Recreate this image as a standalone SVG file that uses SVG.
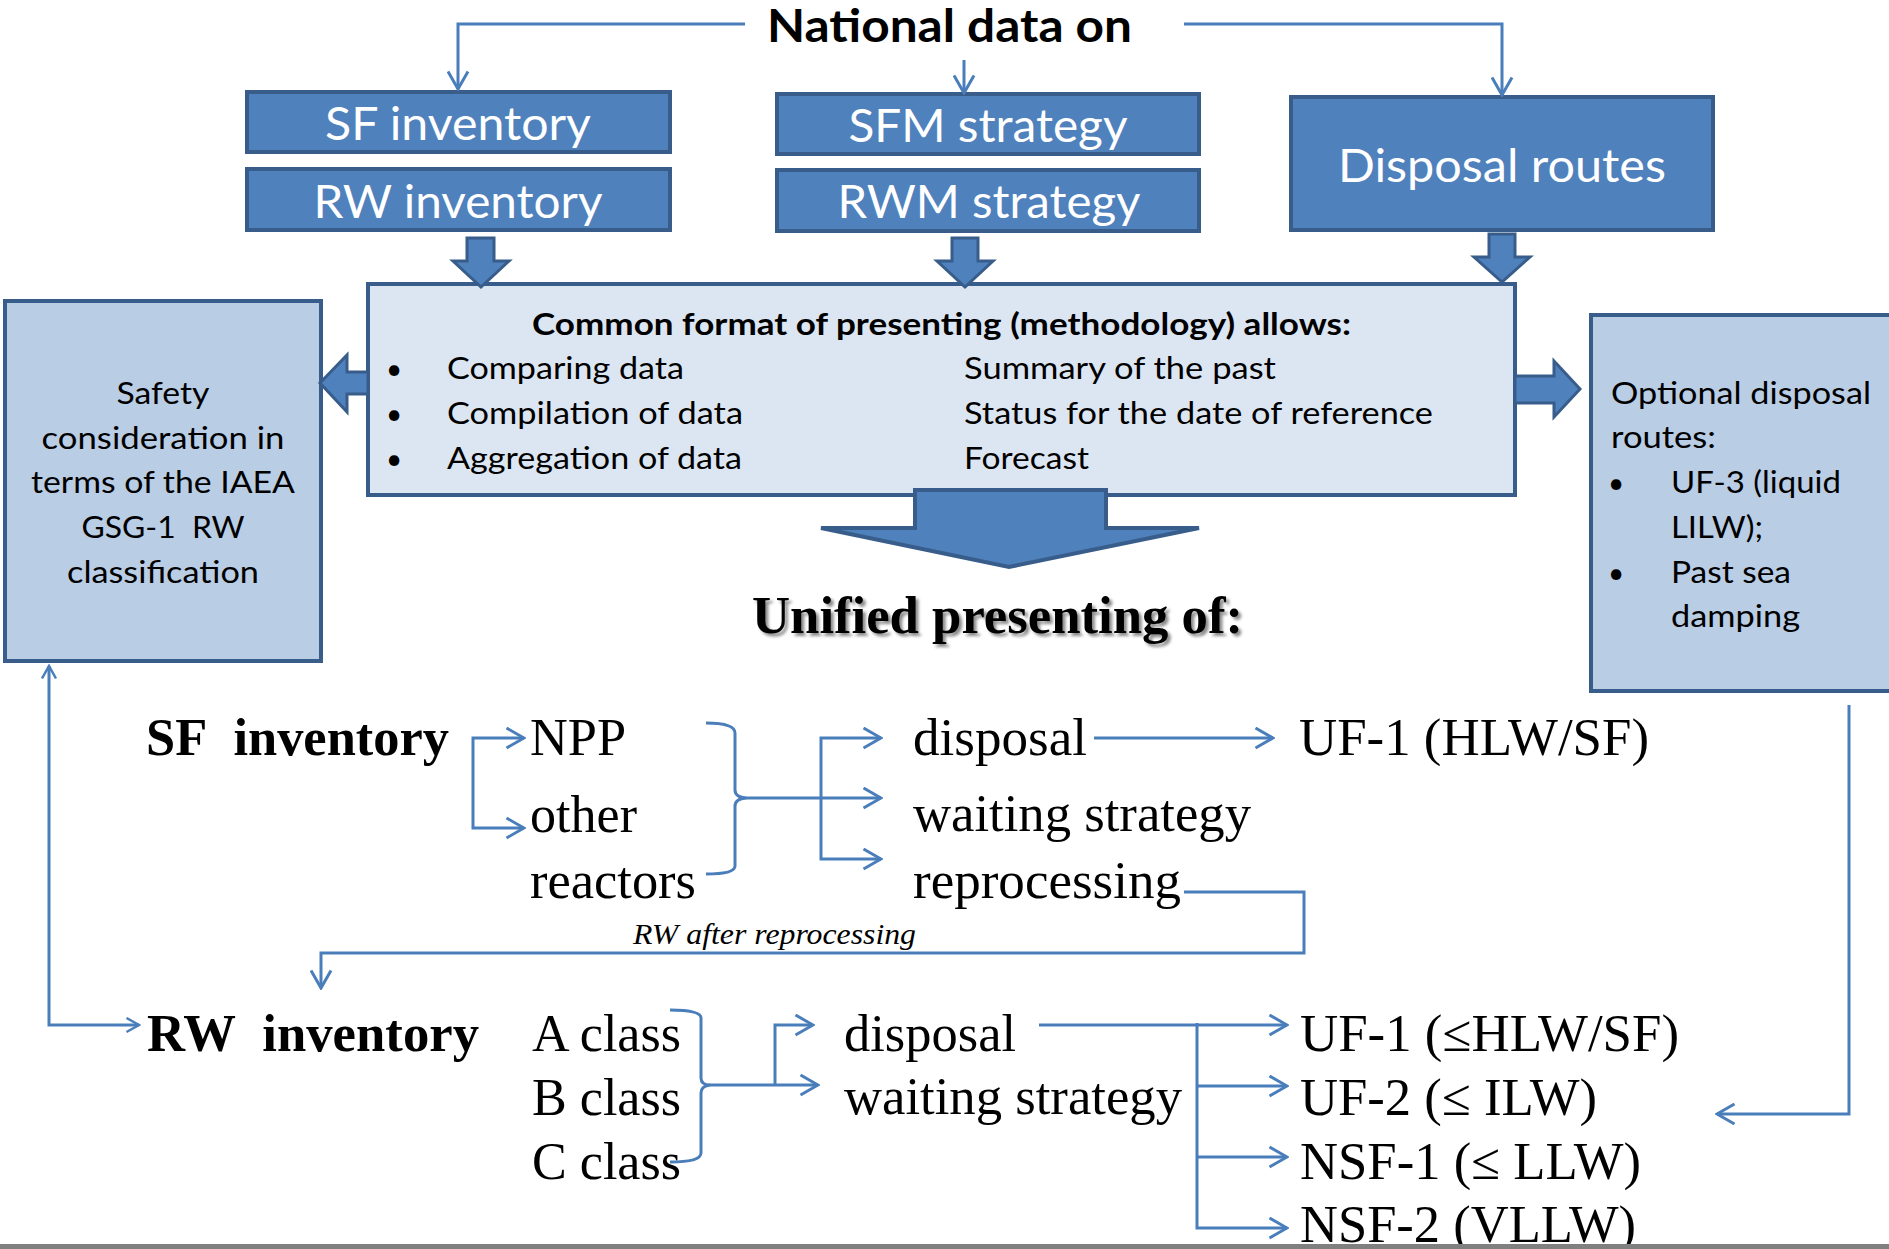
<svg xmlns="http://www.w3.org/2000/svg" width="1889" height="1249" viewBox="0 0 1889 1249">
  <style>
    .box { fill: #4F81BD; stroke: #385D8A; stroke-width: 4; }
    .pale { fill: #DCE6F2; stroke: #385D8A; stroke-width: 4; }
    .mid { fill: #B9CDE5; stroke: #385D8A; stroke-width: 4; }
    .blk { fill: #4F81BD; stroke: #385D8A; stroke-width: 3; stroke-linejoin: miter; }
    .wt { font-family: Lato, "Open Sans", sans-serif; fill: #FFFFFF; font-size: 46px; }
    .cal { font-family: Lato, "Open Sans", sans-serif; fill: #000000; font-size: 31px; }
    .bul { font-family: Lato, "Open Sans", sans-serif; fill: #000000; font-size: 28px; }
    .calb { font-family: Lato, "Open Sans", sans-serif; fill: #000000; font-weight: bold; }
    .tr { font-family: "Liberation Serif", "Times New Roman", serif; fill: #000000; font-size: 52px; }
    .tri { font-family: "Liberation Serif", "Times New Roman", serif; fill: #000000; font-size: 30px; font-style: italic; }
    .trb { font-family: "Liberation Serif", "Times New Roman", serif; fill: #000000; font-size: 53px; font-weight: bold; }
    .ln { fill: none; stroke: #4A7EBB; stroke-width: 3; }
  </style>
  <defs>
    <marker id="ah" viewBox="0 0 21 23" refX="19" refY="11.5" markerWidth="21" markerHeight="23" markerUnits="userSpaceOnUse" orient="auto-start-reverse">
      <path d="M1.5,1.5 L19,11.5 L1.5,21.5" fill="none" stroke="#4A7EBB" stroke-width="3"/>
    </marker>
    <marker id="ahs" viewBox="0 0 16 17" refX="14" refY="8.5" markerWidth="16" markerHeight="17" markerUnits="userSpaceOnUse" orient="auto-start-reverse">
      <path d="M1.5,1.5 L14,8.5 L1.5,15.5" fill="none" stroke="#4A7EBB" stroke-width="2.5"/>
    </marker>
    <filter id="shadow" x="-5%" y="-20%" width="110%" height="150%">
      <feDropShadow dx="3" dy="3" stdDeviation="1.6" flood-color="#000000" flood-opacity="0.45"/>
    </filter>
  </defs>

  <!-- title -->
  <g id="title">
    <text class="calb" x="767" y="42" font-size="46" textLength="365" lengthAdjust="spacingAndGlyphs">National data on</text>
  </g>

  <!-- input data boxes -->
  <g id="sf-inventory">
    <rect class="box" x="247" y="92" width="423" height="60"/>
    <text class="wt" x="458" y="140" text-anchor="middle" textLength="266" lengthAdjust="spacingAndGlyphs">SF inventory</text>
  </g>
  <g id="rw-inventory">
    <rect class="box" x="247" y="169" width="423" height="61"/>
    <text class="wt" x="458" y="218" text-anchor="middle" textLength="289" lengthAdjust="spacingAndGlyphs">RW inventory</text>
  </g>
  <g id="sfm-strategy">
    <rect class="box" x="777" y="94" width="422" height="60"/>
    <text class="wt" x="988" y="142" text-anchor="middle" textLength="279" lengthAdjust="spacingAndGlyphs">SFM strategy</text>
  </g>
  <g id="rwm-strategy">
    <rect class="box" x="777" y="170" width="422" height="61"/>
    <text class="wt" x="989" y="218" text-anchor="middle" textLength="303" lengthAdjust="spacingAndGlyphs">RWM strategy</text>
  </g>
  <g id="disposal-routes">
    <rect class="box" x="1291" y="97" width="422" height="133"/>
    <text class="wt" x="1502" y="182" text-anchor="middle" style="font-size:47px" textLength="328" lengthAdjust="spacingAndGlyphs">Disposal routes</text>
  </g>

  <!-- methodology box -->
  <g id="common-format">
    <rect class="pale" x="368" y="284" width="1147" height="211"/>
    <text class="calb" x="941.5" y="335" font-size="30" text-anchor="middle" textLength="819" lengthAdjust="spacingAndGlyphs">Common format of presenting (methodology) allows:</text>
    <text class="bul" x="394" y="379" text-anchor="middle">•</text>
    <text class="bul" x="394" y="424" text-anchor="middle">•</text>
    <text class="bul" x="394" y="469" text-anchor="middle">•</text>
    <text class="cal" x="447" y="379" textLength="237" lengthAdjust="spacingAndGlyphs">Comparing data</text>
    <text class="cal" x="447" y="424" textLength="296" lengthAdjust="spacingAndGlyphs">Compilation of data</text>
    <text class="cal" x="447" y="469" textLength="295" lengthAdjust="spacingAndGlyphs">Aggregation of data</text>
    <text class="cal" x="964" y="379" textLength="312" lengthAdjust="spacingAndGlyphs">Summary of the past</text>
    <text class="cal" x="964" y="424" textLength="469" lengthAdjust="spacingAndGlyphs">Status for the date of reference</text>
    <text class="cal" x="964" y="469" textLength="125" lengthAdjust="spacingAndGlyphs">Forecast</text>
  </g>

  <!-- side boxes -->
  <g id="safety">
    <rect class="mid" x="5" y="301" width="316" height="360"/>
    <text class="cal" x="163" y="404" text-anchor="middle" textLength="93" lengthAdjust="spacingAndGlyphs">Safety</text>
    <text class="cal" x="163" y="449" text-anchor="middle" textLength="243" lengthAdjust="spacingAndGlyphs">consideration in</text>
    <text class="cal" x="163" y="493" text-anchor="middle" textLength="264" lengthAdjust="spacingAndGlyphs">terms of the IAEA</text>
    <text class="cal" x="163" y="538" text-anchor="middle" textLength="163" lengthAdjust="spacingAndGlyphs">GSG-1&#160; RW</text>
    <text class="cal" x="163" y="583" text-anchor="middle" textLength="192" lengthAdjust="spacingAndGlyphs">classification</text>
  </g>
  <g id="optional-routes">
    <rect class="mid" x="1591" y="315" width="400" height="376"/>
    <text class="cal" x="1611" y="404" textLength="260" lengthAdjust="spacingAndGlyphs">Optional disposal</text>
    <text class="cal" x="1611" y="448" textLength="105" lengthAdjust="spacingAndGlyphs">routes:</text>
    <text class="bul" x="1616" y="493" text-anchor="middle">•</text>
    <text class="cal" x="1671" y="493" textLength="170" lengthAdjust="spacingAndGlyphs">UF-3 (liquid</text>
    <text class="cal" x="1671" y="538" textLength="92" lengthAdjust="spacingAndGlyphs">LILW);</text>
    <text class="bul" x="1616" y="583" text-anchor="middle">•</text>
    <text class="cal" x="1671" y="583" textLength="120" lengthAdjust="spacingAndGlyphs">Past sea</text>
    <text class="cal" x="1671" y="627" textLength="129" lengthAdjust="spacingAndGlyphs">damping</text>
  </g>

  <!-- block arrows -->
  <g id="block-arrows">
    <path class="blk" d="M467,238 H494 V261 H509 L481,287 L453,261 H467 Z"/>
    <path class="blk" d="M952,238 H978 V261 H993 L965,287 L937,261 H952 Z"/>
    <path class="blk" d="M1489,234 H1515 V257 H1530 L1502,282 L1474,257 H1489 Z"/>
    <path class="blk" d="M368,372 H347 V355 L320,383 L347,412 V394 H368 Z"/>
    <path class="blk" d="M1515,376 H1554 V361 L1580,389 L1554,417 V403 H1515 Z"/>
    <path class="blk" style="stroke-width:4px" d="M915,490 H1106 V528 H1199 L1009,567 L821,528 H915 Z"/>
  </g>

  <!-- unified presentation section -->
  <g id="unified-heading">
    <text class="trb" x="752" y="633" filter="url(#shadow)" textLength="491" lengthAdjust="spacingAndGlyphs">Unified presenting of:</text>
  </g>

  <g id="sf-branch">
    <text class="trb" x="146" y="755" textLength="303" lengthAdjust="spacingAndGlyphs">SF&#160; inventory</text>
    <text class="tr" x="530" y="755" textLength="96" lengthAdjust="spacingAndGlyphs">NPP</text>
    <text class="tr" x="530" y="832" textLength="107" lengthAdjust="spacingAndGlyphs">other</text>
    <text class="tr" x="530" y="898" textLength="166" lengthAdjust="spacingAndGlyphs">reactors</text>
    <text class="tr" x="913" y="755" textLength="174" lengthAdjust="spacingAndGlyphs">disposal</text>
    <text class="tr" x="913" y="831" textLength="338" lengthAdjust="spacingAndGlyphs">waiting strategy</text>
    <text class="tr" x="913" y="898" textLength="268" lengthAdjust="spacingAndGlyphs">reprocessing</text>
    <text class="tr" x="1299" y="755" textLength="350" lengthAdjust="spacingAndGlyphs">UF-1 (HLW/SF)</text>
    <text class="tri" x="633" y="944" textLength="283" lengthAdjust="spacingAndGlyphs">RW after reprocessing</text>
  </g>

  <g id="rw-branch">
    <text class="trb" x="147" y="1051" textLength="332" lengthAdjust="spacingAndGlyphs">RW&#160; inventory</text>
    <text class="tr" x="532" y="1051" textLength="149" lengthAdjust="spacingAndGlyphs">A class</text>
    <text class="tr" x="532" y="1115" textLength="149" lengthAdjust="spacingAndGlyphs">B class</text>
    <text class="tr" x="532" y="1179" textLength="149" lengthAdjust="spacingAndGlyphs">C class</text>
    <text class="tr" x="844" y="1051" textLength="172" lengthAdjust="spacingAndGlyphs">disposal</text>
    <text class="tr" x="844" y="1114" textLength="338" lengthAdjust="spacingAndGlyphs">waiting strategy</text>
    <text class="tr" x="1300" y="1051" textLength="379" lengthAdjust="spacingAndGlyphs">UF-1 (≤HLW/SF)</text>
    <text class="tr" x="1300" y="1115" textLength="297" lengthAdjust="spacingAndGlyphs">UF-2 (≤ ILW)</text>
    <text class="tr" x="1300" y="1179" textLength="341" lengthAdjust="spacingAndGlyphs">NSF-1 (≤ LLW)</text>
    <text class="tr" x="1300" y="1242" textLength="336" lengthAdjust="spacingAndGlyphs">NSF-2 (VLLW)</text>
  </g>

  <!-- connectors -->
  <g id="connectors">
    <path class="ln" d="M745,24 H458 V89" marker-end="url(#ah)"/>
    <path class="ln" d="M964,60 V93" marker-end="url(#ah)"/>
    <path class="ln" d="M1184,24 H1502 V95" marker-end="url(#ah)"/>

    <path class="ln" d="M49,666 V1025 H139" marker-start="url(#ahs)" marker-end="url(#ahs)"/>

    <path class="ln" d="M524,738 H473 V828 H524" marker-start="url(#ah)" marker-end="url(#ah)"/>
    <path class="ln" d="M706,723 Q735,723 735,733 V790 Q735,797 746,798 Q735,799 735,806 V866 Q735,874 706,874"/>
    <path class="ln" d="M745,798 H881" marker-end="url(#ah)"/>
    <path class="ln" d="M881,738 H821 V859 H881" marker-start="url(#ah)" marker-end="url(#ah)"/>
    <path class="ln" d="M1094,738 H1273" marker-end="url(#ah)"/>
    <path class="ln" d="M1184,892 H1304 V953 H321 V988" marker-end="url(#ah)"/>

    <path class="ln" d="M670,1010 Q701,1010 701,1018 V1078 Q701,1085 710,1085 Q701,1086 701,1093 V1153 Q701,1162 670,1162"/>
    <path class="ln" d="M709,1085 H818" marker-end="url(#ah)"/>
    <path class="ln" d="M775,1085 V1025 H813" marker-end="url(#ah)"/>

    <path class="ln" d="M1039,1025 H1287" marker-end="url(#ah)"/>
    <path class="ln" d="M1197,1023 V1228 H1287" marker-end="url(#ah)"/>
    <path class="ln" d="M1197,1086 H1287" marker-end="url(#ah)"/>
    <path class="ln" d="M1197,1157 H1287" marker-end="url(#ah)"/>

    <path class="ln" d="M1849,705 V1114 H1717" marker-end="url(#ah)"/>
  </g>

  <!-- bottom rule -->
  <rect x="0" y="1244" width="1889" height="5" fill="#808080"/>
</svg>
